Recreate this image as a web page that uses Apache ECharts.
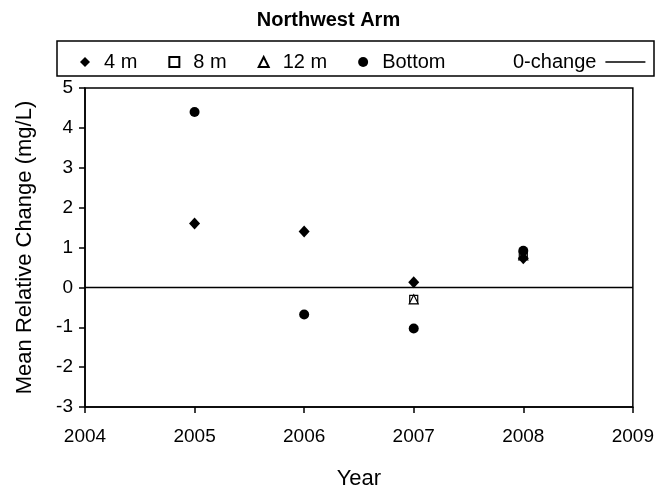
<!DOCTYPE html>
<html>
<head>
<meta charset="utf-8">
<script src="https://cdn.jsdelivr.net/npm/echarts@6/dist/echarts.min.js"></script>
<style>html,body{margin:0;padding:0;background:#fff}#c{width:657px;height:495px}</style>
</head>
<body>
<div id="c"></div>
<script>
const years = [2005, 2006, 2007, 2008];
const m4 = [1.6, 1.4, 0.13, 0.73];
const m8 = [null, null, -0.3, 0.8];
const m12 = [null, null, -0.3, 0.8];
const bottom = [4.4, -0.68, -1.03, 0.92];
const zeroYears = [2004, 2009];
const zeroVals = [0, 0];
const yTicks = [-3, -2, -1, 0, 1, 2, 3, 4, 5];
const xTicks = [2004, 2005, 2006, 2007, 2008, 2009];

const pts = (vals) => years.map((y, i) => vals[i] == null ? null : [y, vals[i]]).filter(p => p);
const FF = '"Liberation Sans", Arial, sans-serif';

const chart = echarts.init(document.getElementById('c'), null, {renderer: 'canvas'});
chart.setOption({
  animation: false,
  backgroundColor: '#fff',
  textStyle: {fontFamily: FF, color: '#000'},
  title: {
    text: 'Northwest Arm', left: 'center', top: 5,
    textStyle: {fontFamily: FF, fontSize: 20, fontWeight: 'bold', color: '#000'}
  },
  graphic: [{
    type: 'rect', z: -1,
    shape: {x: 57, y: 41, width: 597, height: 35},
    style: {fill: 'none', stroke: '#000', lineWidth: 1.5}
  }],
  legend: [{
    data: ['4 m', '8 m', '12 m', 'Bottom'],
    left: 75, top: 47, itemWidth: 10, itemHeight: 10, itemGap: 31,
    textStyle: {fontFamily: FF, fontSize: 20, color: '#000', padding: [0, 0, 0, 9]}
  }, {
    data: [{name: '0-change', icon: 'rect'}],
    left: 508, top: 47, align: 'right', itemWidth: 40, itemHeight: 1.5,
    itemStyle: {color: '#000'},
    textStyle: {fontFamily: FF, fontSize: 20, color: '#000', padding: [0, 4, 0, 0]}
  }],
  grid: {left: 85, right: 24, top: 88, bottom: 85, show: true, borderColor: '#000', borderWidth: 1.5, containLabel: false},
  xAxis: {
    type: 'value', min: xTicks[0], max: xTicks[xTicks.length - 1], interval: 1,
    name: 'Year', nameLocation: 'middle', nameGap: 61,
    nameTextStyle: {fontFamily: FF, fontSize: 22, color: '#000'},
    axisLine: {onZero: false, lineStyle: {color: '#000', width: 1.5}},
    axisTick: {show: true, inside: false, length: 6, lineStyle: {color: '#000', width: 1.5}},
    axisLabel: {fontFamily: FF, fontSize: 19, color: '#000', margin: 20, formatter: v => String(v)},
    splitLine: {show: false}
  },
  yAxis: {
    type: 'value', min: yTicks[0], max: yTicks[yTicks.length - 1], interval: 1,
    name: 'Mean Relative Change (mg/L)', nameLocation: 'middle', nameGap: 49, nameRotate: 90,
    nameTextStyle: {fontFamily: FF, fontSize: 22, color: '#000'},
    axisLine: {onZero: false, lineStyle: {color: '#000', width: 1.5}},
    axisTick: {show: true, inside: false, length: 6, lineStyle: {color: '#000', width: 1.5}},
    axisLabel: {fontFamily: FF, fontSize: 19, color: '#000', margin: 12},
    splitLine: {show: false}
  },
  series: [
    {
      name: '0-change', type: 'line', data: zeroYears.map((y, i) => [y, zeroVals[i]]),
      symbol: 'none', lineStyle: {color: '#000', width: 1.5}, itemStyle: {color: '#000'}, z: 1
    },
    {
      name: '8 m', type: 'scatter', data: pts(m8), symbol: 'rect', symbolSize: 8,
      itemStyle: {color: '#fff', borderColor: '#000', borderWidth: 1.2, opacity: 1}, z: 2
    },
    {
      name: '12 m', type: 'scatter', data: pts(m12), symbol: 'triangle', symbolSize: [9, 9],
      itemStyle: {color: '#fff', borderColor: '#000', borderWidth: 1.2, opacity: 1}, z: 3
    },
    {
      name: '4 m', type: 'scatter', data: pts(m4), symbol: 'diamond', symbolSize: [11, 12],
      itemStyle: {color: '#000', opacity: 1}, z: 4
    },
    {
      name: 'Bottom', type: 'scatter', data: pts(bottom), symbol: 'circle', symbolSize: 10,
      itemStyle: {color: '#000', opacity: 1}, z: 5
    }
  ]
});
</script>
</body>
</html>
